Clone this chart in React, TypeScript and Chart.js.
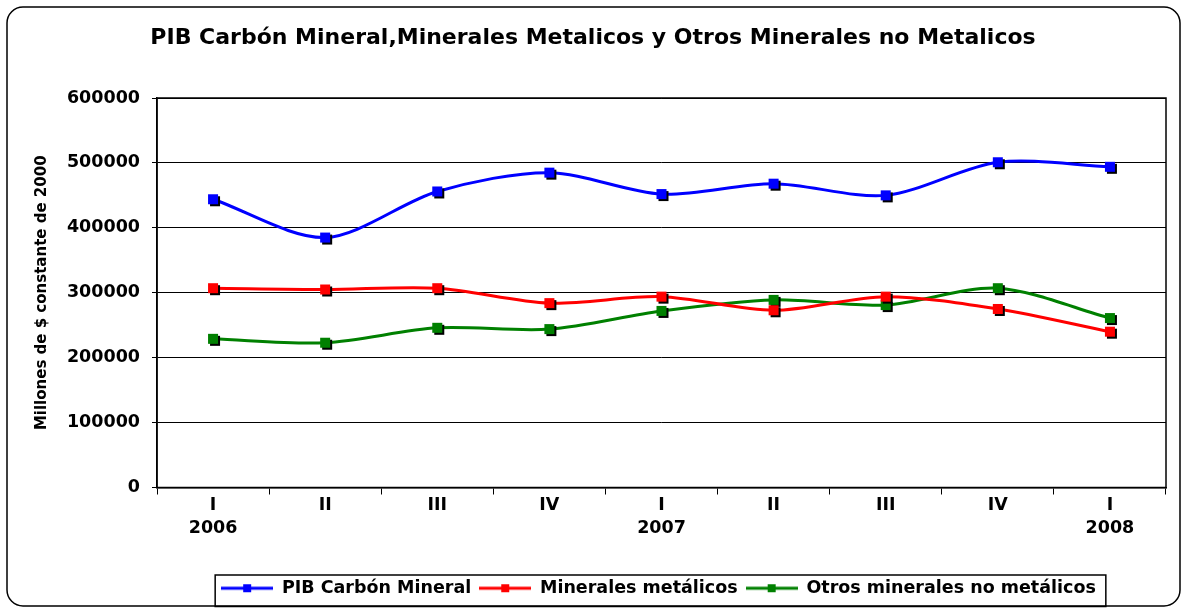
import React, { useEffect, useRef } from "react";
import { Chart, registerables } from "chart.js";

Chart.register(...registerables);

const quarters = ["I", "II", "III", "IV", "I", "II", "III", "IV", "I"];
const years = ["2006", "", "", "", "2007", "", "", "", "2008"];

const pibCarbon = [444000, 385000, 456000, 485000, 452000, 468000, 450000, 501000, 494000];
const mineralesMetalicos = [307000, 305000, 307000, 284000, 294000, 273000, 294000, 275000, 240000];
const otrosMinerales = [229000, 223000, 246000, 244000, 272000, 289000, 281000, 307000, 261000];

const seriesNames = ["PIB Carbón Mineral", "Minerales metálicos", "Otros minerales no metálicos"];
const seriesColors = ["#0000FF", "#FF0000", "#008000"];

const yTicks = [0, 100000, 200000, 300000, 400000, 500000, 600000];

const FONT = "'DejaVu Sans', Verdana, sans-serif";

function makeIcon(color: string) {
  const c = document.createElement("canvas");
  c.width = 52;
  c.height = 10;
  const g = c.getContext("2d")!;
  g.strokeStyle = color;
  g.lineWidth = 3;
  g.beginPath();
  g.moveTo(0, 5);
  g.lineTo(52, 5);
  g.stroke();
  g.fillStyle = color;
  g.fillRect(22, 1, 8, 8);
  return c;
}

const framePlugin = {
  id: "frame",
  afterLayout(chart: any) {
    const lg = chart.legend;
    if (!lg) return;
    const shift = 658.5 - (lg.left + lg.right) / 2;
    lg.left += shift;
    lg.right += shift;
  },
  beforeDraw(chart: any) {
    const ctx = chart.ctx;
    ctx.save();
    ctx.fillStyle = "#fff";
    ctx.fillRect(0, 0, chart.width, chart.height);
    ctx.strokeStyle = "#000";
    ctx.lineWidth = 1.5;
    ctx.beginPath();
    ctx.roundRect(7, 7, 1173, 599, 16);
    ctx.stroke();
    ctx.restore();
  },
  beforeDatasetsDraw(chart: any) {
    const { ctx, chartArea: a } = chart;
    ctx.save();
    ctx.strokeStyle = "#000";
    ctx.lineWidth = 1.5;
    ctx.strokeRect(a.left, a.top, a.right - a.left, a.bottom - a.top);
    ctx.restore();
  },
  afterDatasetDraw(chart: any, args: any) {
    const ctx = chart.ctx;
    const meta = args.meta;
    const color = chart.data.datasets[args.index].borderColor;
    ctx.save();
    meta.data.forEach((p: any) => {
      ctx.fillStyle = "#000";
      ctx.fillRect(p.x - 3, p.y - 3, 10, 10);
      ctx.fillStyle = color;
      ctx.fillRect(p.x - 5, p.y - 5, 10, 10);
    });
    ctx.restore();
  },
  afterDraw(chart: any) {
    const lg = chart.legend;
    if (!lg || !lg.legendHitBoxes || !lg.legendHitBoxes.length) return;
    const hb = lg.legendHitBoxes;
    const first = hb[0];
    const last = hb[hb.length - 1];
    const ctx = chart.ctx;
    ctx.save();
    ctx.strokeStyle = "#000";
    ctx.lineWidth = 1.5;
    const l = first.left - 6;
    const r = last.left + last.width + 10;
    ctx.strokeRect(l, 575, r - l, 31.5);
    ctx.restore();
  },
};

export default function App() {
  const ref = useRef<HTMLCanvasElement>(null);

  useEffect(() => {
    const canvas = ref.current!;
    Chart.defaults.font.family = FONT;
    Chart.defaults.color = "#000";
    const icons = seriesColors.map(makeIcon);
    const labels = quarters.map((q, i) => [q, years[i]]);
    const values = [pibCarbon, mineralesMetalicos, otrosMinerales];

    const chart = new Chart(canvas, {
      type: "line",
      data: {
        labels,
        datasets: values.map((v, i) => ({
          label: seriesNames[i],
          data: v,
          borderColor: seriesColors[i],
          backgroundColor: seriesColors[i],
          borderWidth: 3,
          tension: 0.3,
          pointRadius: 0,
          fill: false,
        })),
      },
      options: {
        responsive: false,
        animation: false,
        events: [],
        layout: { padding: { top: 12, left: 20, right: 16, bottom: 1 } },
        plugins: {
          title: {
            display: true,
            text: "PIB Carbón Mineral,Minerales Metalicos y Otros Minerales no Metalicos",
            font: { size: 22, weight: "bold", family: FONT },
            color: "#000",
            padding: { top: 12.8, bottom: 46.8 },
          },
          legend: {
            position: "bottom",
            labels: {
              usePointStyle: true,
              pointStyleWidth: 52,
              padding: 8,
              color: "#000",
              font: { size: 17.5, weight: "bold", family: FONT },
              generateLabels: (ch: any) =>
                (Chart.defaults.plugins.legend.labels as any)
                  .generateLabels(ch)
                  .map((it: any, i: number) => ({ ...it, pointStyle: icons[i] })),
            },
          },
          tooltip: { enabled: false },
        },
        scales: {
          x: {
            offset: true,
            grid: {
              offset: true,
              drawOnChartArea: false,
              drawTicks: true,
              tickLength: 7,
              color: "#000",
              lineWidth: 1,
            },
            border: { display: true, color: "#000", width: 1.5 },
            ticks: {
              font: { size: 17.5, weight: "bold", family: FONT, lineHeight: 1.3 },
              color: "#000",
              padding: 0,
              maxRotation: 0,
              autoSkip: false,
            },
            afterFit: (s: any) => {
              s.height = 84;
            },
          },
          y: {
            min: 0,
            max: 600000,
            afterBuildTicks: (s: any) => {
              s.ticks = yTicks.map((v) => ({ value: v }));
            },
            ticks: {
              font: { size: 17.5, weight: "bold", family: FONT },
              color: "#000",
              padding: 12,
              callback: (v: any) => String(v),
            },
            grid: { color: "#000", lineWidth: 1, tickLength: 5, drawTicks: true },
            border: { display: true, color: "#000", width: 1.5 },
            title: {
              display: true,
              text: "Millones de $ constante de 2000",
              font: { size: 15, weight: "bold", family: FONT },
              color: "#000",
              padding: { top: 13, bottom: 10 },
            },
            afterFit: (s: any) => {
              s.width = 137;
            },
          },
        },
      },
      plugins: [framePlugin],
    });

    return () => chart.destroy();
  }, []);

  return (
    <div style={{ position: "absolute", left: 0, top: 0, width: 1182, height: 608 }}>
      <canvas ref={ref} width={1182} height={608} style={{ display: "block" }} />
    </div>
  );
}
